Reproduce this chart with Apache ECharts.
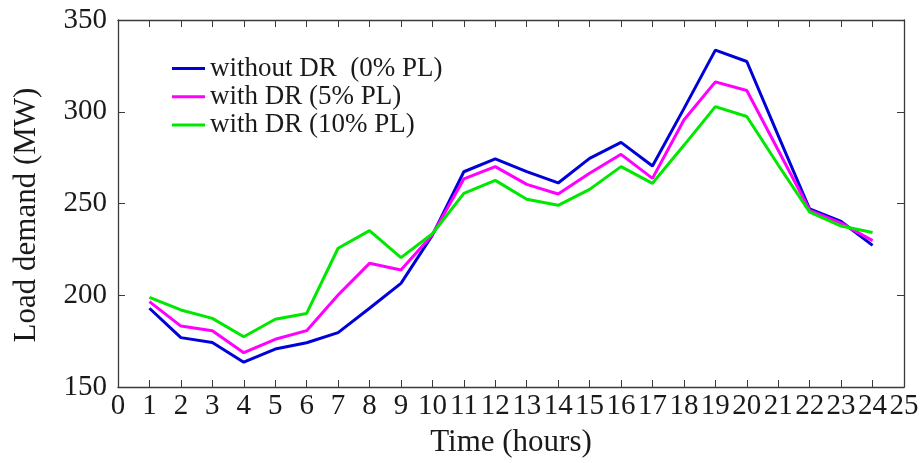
<!DOCTYPE html>
<html>
<head>
<meta charset="utf-8">
<script src="https://cdn.jsdelivr.net/npm/echarts@6/dist/echarts.min.js"></script>
<style>html,body{margin:0;padding:0;background:#fff}#c{width:921px;height:463px}</style>
</head>
<body>
<div id="c"></div>
<script>
const hours = [1,2,3,4,5,6,7,8,9,10,11,12,13,14,15,16,17,18,19,20,21,22,23,24];
const withoutDR = [192.9,176.9,174.3,163.5,170.7,174.1,179.6,192.9,206.5,232.8,267.3,274.3,267.4,261.2,274.6,283.3,270.4,301.7,333.6,327.4,287,247,240.2,227.2];
const withDR5 = [196.5,183.2,180.7,168.7,176,180.7,200.1,217.4,213.8,233,263.4,270.1,260.4,255.2,266.5,276.8,263.7,295.5,316.3,311.6,279,246.3,239.3,229.8];
const withDR10 = [198.9,192,187.4,177.4,186.9,190.1,225.6,235.2,220.5,233.5,255.5,262.6,252.3,249,257.7,270.1,261,281.7,302.8,297.4,271,245.3,237.7,234.2];
const seriesNames = ['without DR  (0% PL)','with DR (5% PL)','with DR (10% PL)'];
const colors = ['#0000d8','#ff00ff','#00e800'];

const font = 'Liberation Serif';
const txt = '#1a1a1a';
const axisCol = '#3a3a3a';
const pair = arr => hours.map((h,i)=>[h,arr[i]]);

const chart = echarts.init(document.getElementById('c'), null, {renderer:'canvas'});
const common = {
  min:0, max:25, interval:1, type:'value'
};
chart.setOption({
  animation:false,
  backgroundColor:'#fff',
  grid:{left:118,right:17,top:20,bottom:76,outerBoundsMode:'none',containLabel:false},
  legend:{
    left:167, top:50, orient:'vertical',
    icon:'rect', itemWidth:33, itemHeight:3, itemGap:1.3,
    textStyle:{fontFamily:font,fontSize:27,color:txt,lineHeight:27},
    data:seriesNames
  },
  xAxis:[
    Object.assign({}, common, {
      position:'bottom',
      name:'Time (hours)', nameLocation:'middle', nameGap:40,
      nameTextStyle:{fontFamily:font,fontSize:31,color:txt},
      axisLine:{show:true,onZero:false,lineStyle:{color:axisCol,width:1.3}},
      axisTick:{show:true,inside:true,length:7,lineStyle:{color:axisCol}},
      axisLabel:{fontFamily:font,fontSize:29,color:txt,margin:5,showMinLabel:true,showMaxLabel:true,hideOverlap:false},
      splitLine:{show:false}
    }),
    Object.assign({}, common, {
      position:'top',
      axisLine:{show:true,onZero:false,lineStyle:{color:axisCol,width:1.3}},
      axisTick:{show:true,inside:true,length:7,lineStyle:{color:axisCol}},
      axisLabel:{show:false},
      splitLine:{show:false}
    })
  ],
  yAxis:[
    {
      type:'value', min:150, max:350, interval:50, position:'left',
      name:'Load demand (MW)', nameLocation:'middle', nameGap:76,
      nameTextStyle:{fontFamily:font,fontSize:31,color:txt,padding:[0,23,0,0]},
      axisLine:{show:true,onZero:false,lineStyle:{color:axisCol,width:1.3}},
      axisTick:{show:true,inside:true,length:7,lineStyle:{color:axisCol}},
      axisLabel:{fontFamily:font,fontSize:29,color:txt,margin:11},
      splitLine:{show:false}
    },
    {
      type:'value', min:150, max:350, interval:50, position:'right',
      axisLine:{show:true,onZero:false,lineStyle:{color:axisCol,width:1.3}},
      axisTick:{show:true,inside:true,length:7,lineStyle:{color:axisCol}},
      axisLabel:{show:false},
      splitLine:{show:false}
    }
  ],
  series:[withoutDR,withDR5,withDR10].map((arr,i)=>({
    name:seriesNames[i], type:'line', data:pair(arr),
    xAxisIndex:0, yAxisIndex:0,
    symbol:'none', smooth:false,
    lineStyle:{color:colors[i],width:3},
    itemStyle:{color:colors[i]}
  }))
});
</script>
</body>
</html>
